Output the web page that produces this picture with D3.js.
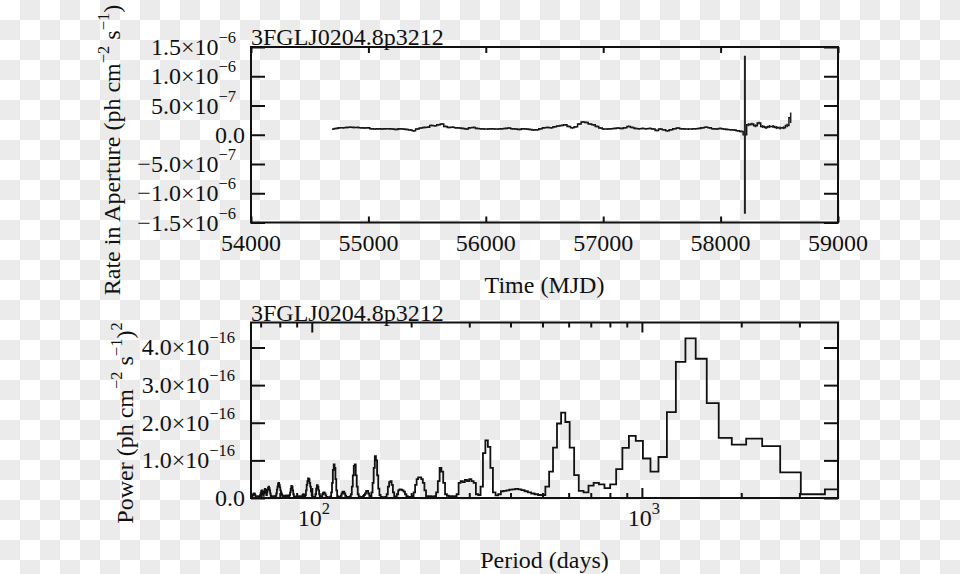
<!DOCTYPE html>
<html><head><meta charset="utf-8">
<script src="https://cdn.jsdelivr.net/npm/d3@7"></script>
<style>
html,body{margin:0;padding:0;background:#fff;}
svg{display:block;}
text{font-family:"Liberation Serif","Times New Roman",Times,serif;fill:#111;}
</style>
</head><body>
<svg id="c" width="960" height="574"></svg>
<script>
// ---------------- data ----------------
const sourceName = "3FGLJ0204.8p3212";

// light curve: 30-day bins starting at MJD 54697, rate in units of 1e-7 ph cm^-2 s^-1
const lcStartMJD = 54697;
const lcBinDays = 30;
const lcRate = [
 0.97,1.08,1.19,1.19,1.25,1.30,1.25,1.25,1.19,1.14,
 1.19,1.02,0.97,1.02,0.97,1.02,1.02,0.97,0.91,1.02,
 0.97,0.91,0.80,0.68,0.97,1.14,1.25,1.30,1.59,1.53,
 1.70,1.82,1.42,1.25,1.30,1.19,1.14,1.08,0.97,1.19,
 1.25,1.08,1.02,0.97,0.97,1.02,0.97,0.97,1.02,1.08,
 1.14,1.02,0.97,0.91,1.02,0.97,0.91,0.80,0.85,1.02,
 1.19,1.25,1.19,1.36,1.48,1.59,1.70,1.42,1.19,1.36,
 1.82,2.20,2.10,1.82,1.70,1.42,1.14,0.97,0.97,1.02,
 1.08,1.14,1.08,1.19,1.42,1.25,1.08,1.02,1.08,1.02,
 1.08,0.97,0.74,0.97,0.85,0.68,0.85,1.02,1.14,1.02,
 0.97,0.97,0.97,1.02,1.08,1.19,1.30,1.19,1.02,0.97,
 1.08,0.97,0.91,0.85,0.80,0.68,0.57,0.00,1.70,1.82,
 1.53,1.99,1.42,1.25,1.42,1.42,1.25,1.14,1.19,1.59,
 2.90
];
const lcErr = [
 0.15,0.15,0.15,0.15,0.15,0.15,0.15,0.15,0.15,0.15,
 0.15,0.15,0.15,0.15,0.15,0.15,0.15,0.15,0.15,0.15,
 0.15,0.15,0.15,0.15,0.15,0.15,0.15,0.15,0.15,0.15,
 0.15,0.15,0.15,0.15,0.15,0.15,0.15,0.15,0.15,0.15,
 0.15,0.15,0.15,0.15,0.15,0.15,0.15,0.15,0.15,0.15,
 0.15,0.15,0.15,0.15,0.15,0.15,0.15,0.15,0.15,0.15,
 0.15,0.15,0.15,0.15,0.15,0.15,0.15,0.15,0.15,0.15,
 0.15,0.15,0.15,0.15,0.15,0.15,0.15,0.15,0.15,0.15,
 0.15,0.15,0.15,0.15,0.15,0.15,0.15,0.15,0.15,0.15,
 0.15,0.15,0.15,0.15,0.15,0.15,0.15,0.15,0.15,0.15,
 0.15,0.15,0.15,0.15,0.15,0.15,0.15,0.15,0.15,0.15,
 0.15,0.15,0.15,0.15,0.15,0.15,0.15,13.5,0.25,0.25,
 0.25,0.25,0.25,0.25,0.25,0.25,0.25,0.25,0.25,0.30,
 0.90
];
const timeTicks = [54000,55000,56000,57000,58000,59000];
const rateTicks = [-1.5e-6,-1.0e-6,-5.0e-7,0,5.0e-7,1.0e-6,1.5e-6];
const rateTickMant = ["\u22121.5","\u22121.0","\u22125.0","0.0","5.0","1.0","1.5"];
const rateTickExp  = ["\u22126","\u22126","\u22127","","\u22127","\u22126","\u22126"];

// periodogram: trial frequencies k/(oversample*baseline), k = 5..300; power in units of 1e-16
const baselineDays = 3927;
const oversample = 5;
const power = [
 0.23,0.10,0.68,1.38,1.58,1.42,1.60,2.52,3.70,4.24,
 3.62,2.28,1.09,0.70,1.05,1.52,1.65,1.33,0.77,0.36,
 0.26,0.36,0.40,0.33,0.15,0.19,0.61,1.34,2.02,2.27,
 1.98,1.34,0.70,0.30,0.08,0.08,0.10,0.12,0.15,0.18,
 0.21,0.23,0.24,0.23,0.22,0.20,0.19,0.18,0.10,0.07,
 0.15,0.80,1.36,1.53,1.19,0.30,0.08,0.10,0.40,0.45,
 0.50,0.45,0.48,0.42,0.45,0.40,0.10,0.05,0.04,0.05,
 0.04,0.06,0.10,0.40,0.70,0.80,0.45,0.15,0.05,0.03,
 0.04,0.05,0.04,0.05,0.20,0.40,0.50,0.55,0.55,0.50,
 0.35,0.15,0.05,0.03,0.03,0.03,0.05,0.10,0.17,0.20,
 0.22,0.23,0.20,0.10,0.03,0.04,0.15,0.35,0.45,0.42,
 0.30,0.10,0.03,0.02,0.02,0.02,0.03,0.08,0.25,0.60,
 1.00,1.11,0.80,0.40,0.15,0.05,0.06,0.12,0.19,0.18,
 0.12,0.08,0.05,0.03,0.02,0.02,0.04,0.10,0.30,0.60,
 0.89,0.85,0.60,0.30,0.10,0.04,0.03,0.02,0.02,0.03,
 0.06,0.12,0.17,0.17,0.12,0.06,0.03,0.02,0.02,0.05,
 0.20,0.50,0.80,0.89,0.75,0.40,0.15,0.04,0.02,0.02,
 0.02,0.02,0.03,0.07,0.12,0.15,0.14,0.10,0.05,0.03,
 0.04,0.10,0.20,0.30,0.34,0.25,0.10,0.03,0.02,0.02,
 0.03,0.08,0.18,0.30,0.40,0.50,0.52,0.45,0.35,0.20,
 0.08,0.03,0.05,0.10,0.08,0.04,0.03,0.04,0.05,0.04,
 0.03,0.04,0.05,0.04,0.03,0.03,0.03,0.04,0.10,0.20,
 0.30,0.32,0.25,0.15,0.08,0.03,0.04,0.06,0.05,0.07,
 0.05,0.04,0.06,0.05,0.04,0.05,0.07,0.10,0.15,0.20,
 0.28,0.35,0.40,0.38,0.30,0.22,0.12,0.06,0.04,0.03,
 0.04,0.05,0.04,0.03,0.03,0.04,0.06,0.12,0.20,0.26,
 0.30,0.27,0.22,0.15,0.08,0.14,0.22,0.24,0.20,0.12,
 0.06,0.10,0.16,0.20,0.18,0.13,0.08,0.05,0.03,0.04,
 0.05,0.03,0.04,0.03,0.03,0.04,0.07,0.10,0.12,0.12,
 0.10,0.08,0.06,0.04,0.05,0.03
];
const powerTicks = [0,1e-16,2e-16,3e-16,4e-16];
const powerTickMant = ["0.0","1.0","2.0","3.0","4.0"];
const powerTickExp  = ["","\u221216","\u221216","\u221216","\u221216"];
const periodMajorTicks = [100,1000];
const periodMajorExp = ["2","3"];
const periodMinorTicks = [70,80,90,200,300,400,500,600,700,800,900,2000,3000];

// ---------------- drawing ----------------
const W = 960, H = 574;
const FS = "24px", SFS = "16.5px";
const svg = d3.select("#c");
const ink = "#111";

// transparent-background checkerboard
const defs = svg.append("defs");
const pat = defs.append("pattern").attr("id","chk").attr("width",40).attr("height",40)
  .attr("patternUnits","userSpaceOnUse");
pat.append("rect").attr("width",40).attr("height",40).attr("fill","#ffffff");
pat.append("rect").attr("x",20).attr("y",0).attr("width",20).attr("height",20).attr("fill","#ebebeb");
pat.append("rect").attr("x",0).attr("y",20).attr("width",20).attr("height",20).attr("fill","#ebebeb");
svg.append("rect").attr("width",W).attr("height",H).attr("fill","url(#chk)");

const pTop = {x0:251, x1:838, y0:47, y1:222.5};
const pBot = {x0:251, x1:838, y0:322.5, y1:498};

function addClip(id, p){
  defs.append("clipPath").attr("id",id).append("rect")
    .attr("x",p.x0).attr("y",p.y0).attr("width",p.x1-p.x0).attr("height",p.y1-p.y0);
}
addClip("clipTop", pTop); addClip("clipBot", pBot);

function expLabel(g, x, y, mant, exp, anchor, supDy){
  const t = g.append("text").attr("x",x).attr("y",y).attr("text-anchor",anchor)
    .style("font-size",FS);
  if (exp) {
    t.append("tspan").text(mant === "" ? "10" : mant + "\u00d710");
    t.append("tspan").attr("dy",supDy).style("font-size",SFS).text(exp);
  } else t.text(mant);
  return t;
}

// ---- top panel ----
const xT = d3.scaleLinear().domain([54000,59000]).range([pTop.x0, pTop.x1]);
const yT = d3.scaleLinear().domain([-1.5e-6,1.5e-6]).range([pTop.y1, pTop.y0]);
const gT = svg.append("g");

gT.append("g").attr("transform",`translate(0,${pTop.y1})`)
  .call(d3.axisBottom(xT).tickValues(timeTicks).tickSizeInner(-6).tickSizeOuter(0).tickFormat(""))
  .call(g=>g.select(".domain").remove());
gT.append("g").attr("transform",`translate(0,${pTop.y0})`)
  .call(d3.axisTop(xT).tickValues(timeTicks).tickSizeInner(-6).tickSizeOuter(0).tickFormat(""))
  .call(g=>g.select(".domain").remove());
gT.append("g").attr("transform",`translate(${pTop.x0},0)`)
  .call(d3.axisLeft(yT).tickValues(rateTicks).tickSizeInner(-14).tickSizeOuter(0).tickFormat(""))
  .call(g=>g.select(".domain").remove());
gT.append("g").attr("transform",`translate(${pTop.x1},0)`)
  .call(d3.axisRight(yT).tickValues(rateTicks).tickSizeInner(-14).tickSizeOuter(0).tickFormat(""))
  .call(g=>g.select(".domain").remove());
gT.selectAll(".tick line").attr("stroke",ink).attr("stroke-width",2);

rateTicks.forEach((v,i)=>{
  expLabel(gT, rateTickExp[i] ? 236 : 245, yT(v)+8, rateTickMant[i], rateTickExp[i], "end", -12);
});
timeTicks.forEach(t=>{
  gT.append("text").attr("x",xT(t)).attr("y",251).attr("text-anchor","middle")
    .style("font-size",FS).text(d3.format("d")(t));
});

const lcData = lcRate.map((v,i)=>({t: lcStartMJD + i*lcBinDays, v: v*1e-7, e: lcErr[i]*1e-7}));
const gLc = gT.append("g").attr("clip-path","url(#clipTop)");
gLc.append("path").datum(lcData)
  .attr("d", d3.line().x(d=>xT(d.t)).y(d=>yT(d.v)).curve(d3.curveStep))
  .attr("fill","none").attr("stroke",ink).attr("stroke-width",1.5);
gLc.selectAll("line.err").data(lcData).join("line").attr("class","err")
  .attr("x1",d=>xT(d.t)).attr("x2",d=>xT(d.t))
  .attr("y1",d=>yT(d.v-d.e)).attr("y2",d=>yT(d.v+d.e))
  .attr("stroke","#222").attr("stroke-width",d=>d.e>5e-7?2:1.5);

gT.append("rect").attr("x",pTop.x0).attr("y",pTop.y0).attr("width",pTop.x1-pTop.x0).attr("height",pTop.y1-pTop.y0)
  .attr("fill","none").attr("stroke",ink).attr("stroke-width",2);

gT.append("text").attr("x",pTop.x0).attr("y",45).style("font-size",FS).text(sourceName);
gT.append("text").attr("x",(pTop.x0+pTop.x1)/2).attr("y",293).attr("text-anchor","middle")
  .style("font-size",FS).text("Time (MJD)");

{
  const t = svg.append("text").attr("transform","translate(120,150) rotate(-90)")
    .attr("text-anchor","middle").style("font-size",FS);
  t.append("tspan").text("Rate in Aperture (ph cm");
  t.append("tspan").attr("dy",-11).style("font-size",SFS).text("\u22122");
  t.append("tspan").attr("dy",11).text(" s");
  t.append("tspan").attr("dy",-11).style("font-size",SFS).text("\u22121");
  t.append("tspan").attr("dy",11).text(")");
}

// ---- bottom panel ----
const trialPeriods = power.map((_,i)=> (oversample*baselineDays)/(i+oversample));
const xB = d3.scaleLog().domain([d3.min(trialPeriods), d3.max(trialPeriods)]).range([pBot.x0, pBot.x1]);
const yB = d3.scaleLinear().domain([0, 1.1*d3.max(power)*1e-16]).range([pBot.y1, pBot.y0]);
const gB = svg.append("g");

[[d3.axisBottom, pBot.y1],[d3.axisTop, pBot.y0]].forEach(([ax,y])=>{
  gB.append("g").attr("transform",`translate(0,${y})`)
    .call(ax(xB).tickValues(periodMinorTicks).tickSizeInner(-5).tickSizeOuter(0).tickFormat(""))
    .call(g=>g.select(".domain").remove());
  gB.append("g").attr("transform",`translate(0,${y})`)
    .call(ax(xB).tickValues(periodMajorTicks).tickSizeInner(-10).tickSizeOuter(0).tickFormat(""))
    .call(g=>g.select(".domain").remove());
});
gB.append("g").attr("transform",`translate(${pBot.x0},0)`)
  .call(d3.axisLeft(yB).tickValues(powerTicks).tickSizeInner(-14).tickSizeOuter(0).tickFormat(""))
  .call(g=>g.select(".domain").remove());
gB.append("g").attr("transform",`translate(${pBot.x1},0)`)
  .call(d3.axisRight(yB).tickValues(powerTicks).tickSizeInner(-14).tickSizeOuter(0).tickFormat(""))
  .call(g=>g.select(".domain").remove());
gB.selectAll(".tick line").attr("stroke",ink).attr("stroke-width",2);

powerTicks.forEach((v,i)=>{
  expLabel(gB, powerTickExp[i] ? 235 : 245, yB(v)+8, powerTickMant[i], powerTickExp[i], "end", -12);
});
periodMajorTicks.forEach((p,i)=>{
  expLabel(gB, xB(p)+2, 526, "", periodMajorExp[i], "middle", -12);
});

const pgData = power.map((v,i)=>({p: trialPeriods[i], v: v*1e-16}));
gB.append("g").attr("clip-path","url(#clipBot)").append("path").datum(pgData)
  .attr("d", d3.line().x(d=>xB(d.p)).y(d=>yB(d.v)).curve(d3.curveStep))
  .attr("fill","none").attr("stroke",ink).attr("stroke-width",1.8);

gB.append("rect").attr("x",pBot.x0).attr("y",pBot.y0).attr("width",pBot.x1-pBot.x0).attr("height",pBot.y1-pBot.y0)
  .attr("fill","none").attr("stroke",ink).attr("stroke-width",2);

gB.append("text").attr("x",pBot.x0).attr("y",320.5).style("font-size",FS).text(sourceName);
gB.append("text").attr("x",(pBot.x0+pBot.x1)/2).attr("y",568).attr("text-anchor","middle")
  .style("font-size",FS).text("Period (days)");

{
  const t = svg.append("text").attr("transform","translate(133,423) rotate(-90)")
    .attr("text-anchor","middle").style("font-size",FS);
  t.append("tspan").text("Power (ph cm");
  t.append("tspan").attr("dy",-11).style("font-size",SFS).text("\u22122");
  t.append("tspan").attr("dy",11).text(" s");
  t.append("tspan").attr("dy",-11).style("font-size",SFS).text("\u22121");
  t.append("tspan").attr("dy",11).text(")");
  t.append("tspan").attr("dy",-11).style("font-size",SFS).text("2");
}
</script>
</body></html>
